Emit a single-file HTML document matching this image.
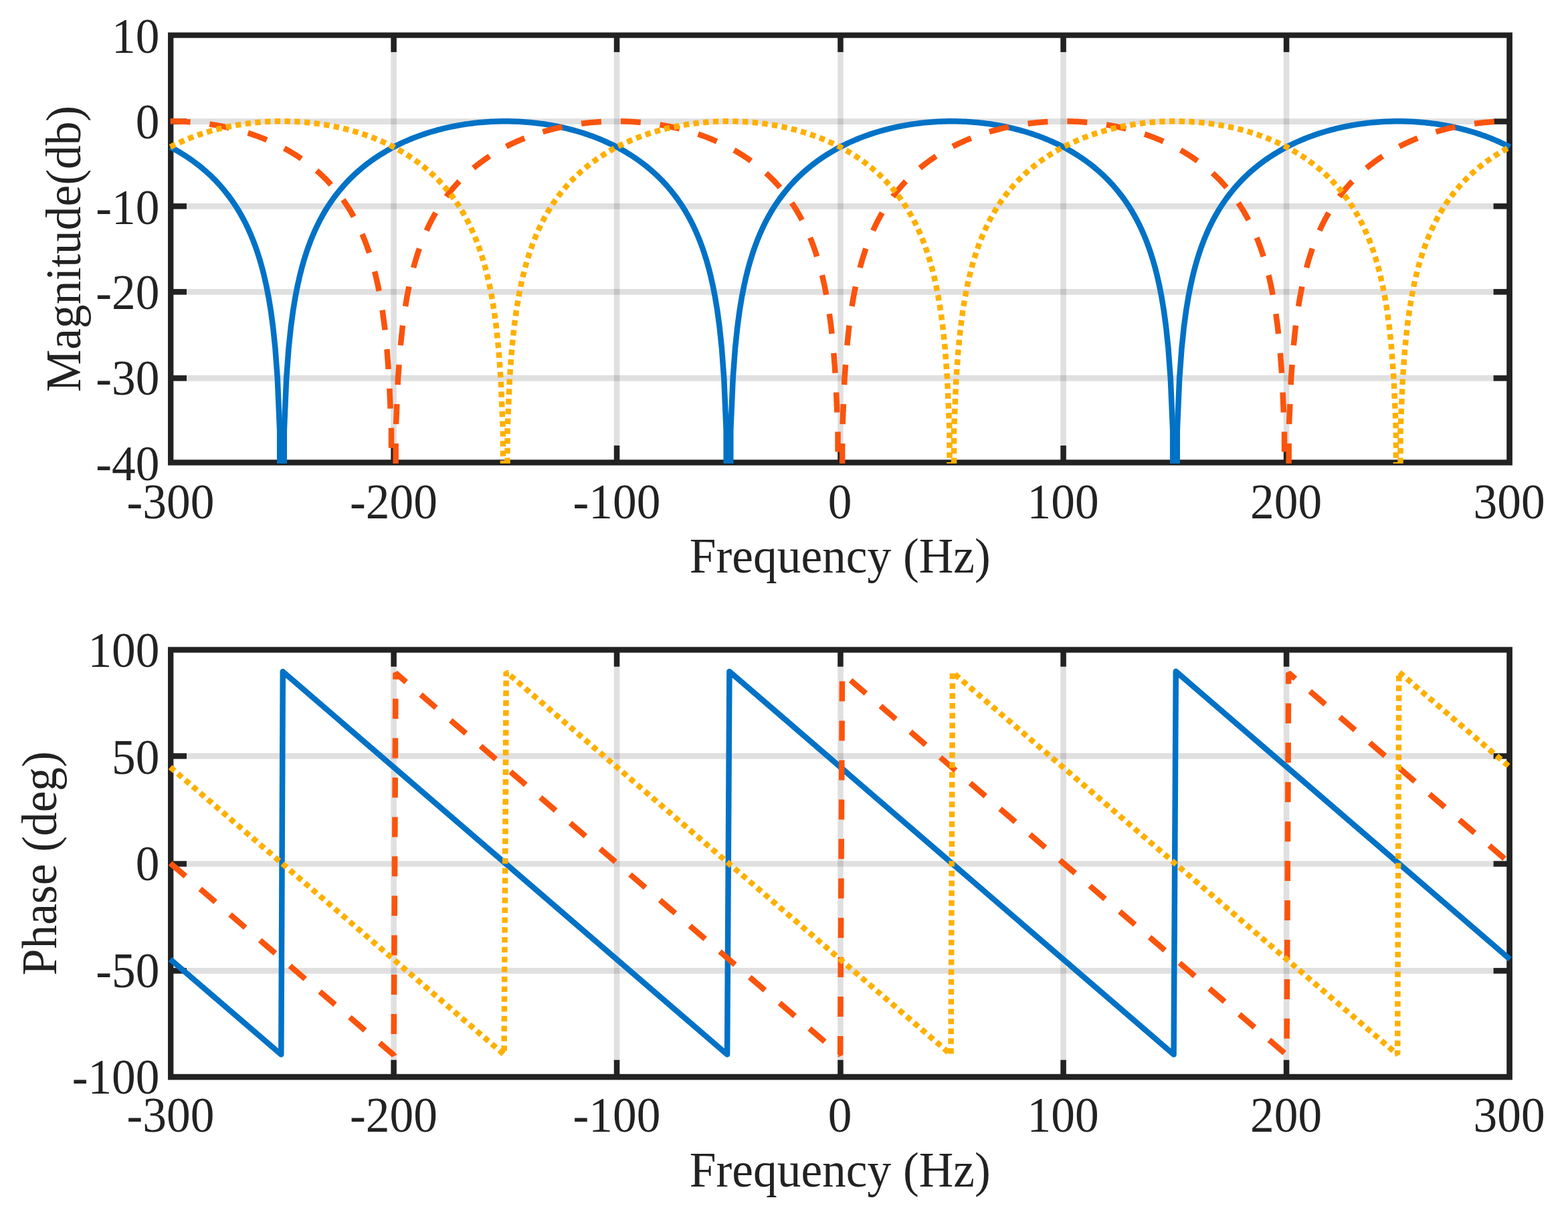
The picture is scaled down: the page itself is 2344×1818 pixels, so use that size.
<!DOCTYPE html>
<html lang="en"><head><meta charset="utf-8"><title>Magnitude and Phase</title>
<style>html,body{margin:0;padding:0;background:#fff}body{width:2344px;height:1818px;overflow:hidden}svg{display:block}text{font-family:"Liberation Serif","Times New Roman",serif;font-size:71.4px;fill:#222222;font-kerning:none;font-variant-ligatures:none;white-space:pre}</style></head><body>
<svg xmlns="http://www.w3.org/2000/svg" width="2344" height="1818" viewBox="0 0 2344 1818">
<rect width="2344" height="1818" fill="#fff"/>
<g stroke="rgba(34,34,34,0.14)" stroke-width="8.60" fill="none">
<line x1="588.60" y1="52.70" x2="588.60" y2="691.30"/>
<line x1="922.05" y1="52.70" x2="922.05" y2="691.30"/>
<line x1="1256.45" y1="52.70" x2="1256.45" y2="691.30"/>
<line x1="1589.60" y1="52.70" x2="1589.60" y2="691.30"/>
<line x1="1923.10" y1="52.70" x2="1923.10" y2="691.30"/>
<line x1="255.20" y1="181.65" x2="2256.40" y2="181.65"/>
<line x1="255.20" y1="308.35" x2="2256.40" y2="308.35"/>
<line x1="255.20" y1="436.35" x2="2256.40" y2="436.35"/>
<line x1="255.20" y1="565.40" x2="2256.40" y2="565.40"/>
</g>
<g stroke="#222222" stroke-width="8.48" fill="none">
<line x1="588.60" y1="52.70" x2="588.60" y2="77.90"/>
<line x1="588.60" y1="691.30" x2="588.60" y2="666.10"/>
<line x1="922.05" y1="52.70" x2="922.05" y2="77.90"/>
<line x1="922.05" y1="691.30" x2="922.05" y2="666.10"/>
<line x1="1256.45" y1="52.70" x2="1256.45" y2="77.90"/>
<line x1="1256.45" y1="691.30" x2="1256.45" y2="666.10"/>
<line x1="1589.60" y1="52.70" x2="1589.60" y2="77.90"/>
<line x1="1589.60" y1="691.30" x2="1589.60" y2="666.10"/>
<line x1="1923.10" y1="52.70" x2="1923.10" y2="77.90"/>
<line x1="1923.10" y1="691.30" x2="1923.10" y2="666.10"/>
<line x1="255.20" y1="181.65" x2="279.00" y2="181.65"/>
<line x1="2256.40" y1="181.65" x2="2232.60" y2="181.65"/>
<line x1="255.20" y1="308.35" x2="279.00" y2="308.35"/>
<line x1="2256.40" y1="308.35" x2="2232.60" y2="308.35"/>
<line x1="255.20" y1="436.35" x2="279.00" y2="436.35"/>
<line x1="2256.40" y1="436.35" x2="2232.60" y2="436.35"/>
<line x1="255.20" y1="565.40" x2="279.00" y2="565.40"/>
<line x1="2256.40" y1="565.40" x2="2232.60" y2="565.40"/>
</g>
<path fill="#222222" fill-rule="evenodd" d="M251.03,48.54 H2260.91 V695.81 H251.03 Z M259.37,56.87 H2252.24 V687.13 H259.37 Z"/>
<g fill="none" stroke-width="8.50">
<g stroke="#0072C6" stroke-linejoin="round">
<path d="M254.60,219.83 L257.94,221.60 L261.27,223.43 L264.61,225.32 L267.95,227.27 L271.29,229.28 L274.62,231.36 L277.96,233.50 L281.30,235.71 L284.64,238.00 L287.98,240.36 L291.31,242.81 L294.65,245.33 L297.99,247.94 L301.32,250.65 L304.66,253.45 L308.00,256.34 L311.34,259.35 L314.68,262.47 L318.01,265.70 L321.35,269.06 L324.69,272.55 L328.02,276.19 L331.36,279.98 L334.70,283.92 L338.04,288.05 L341.38,292.36 L344.71,296.87 L348.05,301.60 L351.39,306.57 L354.73,311.80 L358.06,317.32 L361.40,323.16 L364.74,329.35 L368.07,335.93 L371.41,342.96 L374.75,350.50 L378.09,358.61 L381.43,367.39 L384.76,376.95 L388.10,387.44 L391.44,399.06 L394.77,412.07 L398.11,426.84 L401.45,443.91 L404.79,464.11 L408.12,488.87 L411.46,520.80 L414.80,565.83 L418.14,642.83 L418.19,693.00"/>
<path d="M424.76,693.00 L424.81,642.83 L428.15,565.83 L431.49,520.80 L434.82,488.87 L438.16,464.11 L441.50,443.91 L444.84,426.84 L448.17,412.07 L451.51,399.06 L454.85,387.44 L458.19,376.95 L461.52,367.39 L464.86,358.61 L468.20,350.50 L471.54,342.96 L474.88,335.93 L478.21,329.35 L481.55,323.16 L484.89,317.32 L488.23,311.80 L491.56,306.57 L494.90,301.60 L498.24,296.87 L501.57,292.36 L504.91,288.05 L508.25,283.92 L511.59,279.98 L514.92,276.19 L518.26,272.55 L521.60,269.06 L524.94,265.70 L528.27,262.47 L531.61,259.35 L534.95,256.34 L538.29,253.45 L541.62,250.65 L544.96,247.94 L548.30,245.33 L551.64,242.81 L554.98,240.36 L558.31,238.00 L561.65,235.71 L564.99,233.50 L568.33,231.36 L571.66,229.28 L575.00,227.27 L578.34,225.32 L581.67,223.43 L585.01,221.60 L588.35,219.83 L591.69,218.11 L595.02,216.44 L598.36,214.83 L601.70,213.27 L605.04,211.75 L608.38,210.29 L611.71,208.87 L615.05,207.49 L618.39,206.16 L621.73,204.87 L625.06,203.62 L628.40,202.41 L631.74,201.25 L635.08,200.12 L638.41,199.03 L641.75,197.98 L645.09,196.97 L648.42,195.99 L651.76,195.05 L655.10,194.14 L658.44,193.27 L661.77,192.43 L665.11,191.63 L668.45,190.86 L671.79,190.12 L675.12,189.41 L678.46,188.73 L681.80,188.09 L685.14,187.48 L688.48,186.90 L691.81,186.34 L695.15,185.82 L698.49,185.33 L701.82,184.87 L705.16,184.43 L708.50,184.03 L711.84,183.65 L715.18,183.31 L718.51,182.99 L721.85,182.70 L725.19,182.43 L728.52,182.20 L731.86,181.99 L735.20,181.81 L738.54,181.66 L741.88,181.54 L745.21,181.44 L748.55,181.37 L751.89,181.33 L755.23,181.32 L758.56,181.33 L761.90,181.37 L765.24,181.44 L768.58,181.54 L771.91,181.66 L775.25,181.81 L778.59,181.99 L781.92,182.20 L785.26,182.43 L788.60,182.70 L791.94,182.99 L795.28,183.31 L798.61,183.65 L801.95,184.03 L805.29,184.43 L808.62,184.87 L811.96,185.33 L815.30,185.82 L818.64,186.34 L821.98,186.90 L825.31,187.48 L828.65,188.09 L831.99,188.73 L835.32,189.41 L838.66,190.12 L842.00,190.86 L845.34,191.63 L848.68,192.43 L852.01,193.27 L855.35,194.14 L858.69,195.05 L862.03,195.99 L865.36,196.97 L868.70,197.98 L872.04,199.03 L875.38,200.12 L878.71,201.25 L882.05,202.41 L885.39,203.62 L888.73,204.87 L892.06,206.16 L895.40,207.49 L898.74,208.87 L902.07,210.29 L905.41,211.75 L908.75,213.27 L912.09,214.83 L915.43,216.44 L918.76,218.11 L922.10,219.83 L925.44,221.60 L928.77,223.43 L932.11,225.32 L935.45,227.27 L938.79,229.28 L942.12,231.36 L945.46,233.50 L948.80,235.71 L952.14,238.00 L955.48,240.36 L958.81,242.81 L962.15,245.33 L965.49,247.94 L968.83,250.65 L972.16,253.45 L975.50,256.34 L978.84,259.35 L982.18,262.47 L985.51,265.70 L988.85,269.06 L992.19,272.55 L995.52,276.19 L998.86,279.98 L1002.20,283.92 L1005.54,288.05 L1008.88,292.36 L1012.21,296.87 L1015.55,301.60 L1018.89,306.57 L1022.23,311.80 L1025.56,317.32 L1028.90,323.16 L1032.24,329.35 L1035.58,335.93 L1038.91,342.96 L1042.25,350.50 L1045.59,358.61 L1048.92,367.39 L1052.26,376.95 L1055.60,387.44 L1058.94,399.06 L1062.27,412.07 L1065.61,426.84 L1068.95,443.91 L1072.29,464.11 L1075.62,488.87 L1078.96,520.80 L1082.30,565.83 L1085.64,642.83 L1085.69,693.00"/>
<path d="M1092.26,693.00 L1092.31,642.83 L1095.65,565.83 L1098.99,520.80 L1102.33,488.87 L1105.66,464.11 L1109.00,443.91 L1112.34,426.84 L1115.67,412.07 L1119.01,399.06 L1122.35,387.44 L1125.69,376.95 L1129.02,367.39 L1132.36,358.61 L1135.70,350.50 L1139.04,342.96 L1142.38,335.93 L1145.71,329.35 L1149.05,323.16 L1152.39,317.32 L1155.72,311.80 L1159.06,306.57 L1162.40,301.60 L1165.74,296.87 L1169.08,292.36 L1172.41,288.05 L1175.75,283.92 L1179.09,279.98 L1182.42,276.19 L1185.76,272.55 L1189.10,269.06 L1192.44,265.70 L1195.77,262.47 L1199.11,259.35 L1202.45,256.34 L1205.79,253.45 L1209.12,250.65 L1212.46,247.94 L1215.80,245.33 L1219.14,242.81 L1222.47,240.36 L1225.81,238.00 L1229.15,235.71 L1232.49,233.50 L1235.83,231.36 L1239.16,229.28 L1242.50,227.27 L1245.84,225.32 L1249.17,223.43 L1252.51,221.60 L1255.85,219.83 L1259.19,218.11 L1262.52,216.44 L1265.86,214.83 L1269.20,213.27 L1272.54,211.75 L1275.88,210.29 L1279.21,208.87 L1282.55,207.49 L1285.89,206.16 L1289.22,204.87 L1292.56,203.62 L1295.90,202.41 L1299.24,201.25 L1302.57,200.12 L1305.91,199.03 L1309.25,197.98 L1312.59,196.97 L1315.92,195.99 L1319.26,195.05 L1322.60,194.14 L1325.94,193.27 L1329.27,192.43 L1332.61,191.63 L1335.95,190.86 L1339.29,190.12 L1342.62,189.41 L1345.96,188.73 L1349.30,188.09 L1352.64,187.48 L1355.97,186.90 L1359.31,186.34 L1362.65,185.82 L1365.99,185.33 L1369.32,184.87 L1372.66,184.43 L1376.00,184.03 L1379.34,183.65 L1382.67,183.31 L1386.01,182.99 L1389.35,182.70 L1392.69,182.43 L1396.02,182.20 L1399.36,181.99 L1402.70,181.81 L1406.04,181.66 L1409.38,181.54 L1412.71,181.44 L1416.05,181.37 L1419.39,181.33 L1422.72,181.32 L1426.06,181.33 L1429.40,181.37 L1432.74,181.44 L1436.07,181.54 L1439.41,181.66 L1442.75,181.81 L1446.09,181.99 L1449.42,182.20 L1452.76,182.43 L1456.10,182.70 L1459.44,182.99 L1462.78,183.31 L1466.11,183.65 L1469.45,184.03 L1472.79,184.43 L1476.12,184.87 L1479.46,185.33 L1482.80,185.82 L1486.14,186.34 L1489.47,186.90 L1492.81,187.48 L1496.15,188.09 L1499.49,188.73 L1502.82,189.41 L1506.16,190.12 L1509.50,190.86 L1512.84,191.63 L1516.17,192.43 L1519.51,193.27 L1522.85,194.14 L1526.19,195.05 L1529.53,195.99 L1532.86,196.97 L1536.20,197.98 L1539.54,199.03 L1542.87,200.12 L1546.21,201.25 L1549.55,202.41 L1552.89,203.62 L1556.22,204.87 L1559.56,206.16 L1562.90,207.49 L1566.24,208.87 L1569.57,210.29 L1572.91,211.75 L1576.25,213.27 L1579.59,214.83 L1582.92,216.44 L1586.26,218.11 L1589.60,219.83 L1592.94,221.60 L1596.28,223.43 L1599.61,225.32 L1602.95,227.27 L1606.29,229.28 L1609.62,231.36 L1612.96,233.50 L1616.30,235.71 L1619.64,238.00 L1622.97,240.36 L1626.31,242.81 L1629.65,245.33 L1632.99,247.94 L1636.32,250.65 L1639.66,253.45 L1643.00,256.34 L1646.34,259.35 L1649.67,262.47 L1653.01,265.70 L1656.35,269.06 L1659.69,272.55 L1663.02,276.19 L1666.36,279.98 L1669.70,283.92 L1673.04,288.05 L1676.37,292.36 L1679.71,296.87 L1683.05,301.60 L1686.39,306.57 L1689.72,311.80 L1693.06,317.32 L1696.40,323.16 L1699.74,329.35 L1703.08,335.93 L1706.41,342.96 L1709.75,350.50 L1713.09,358.61 L1716.42,367.39 L1719.76,376.95 L1723.10,387.44 L1726.44,399.06 L1729.77,412.07 L1733.11,426.84 L1736.45,443.91 L1739.79,464.11 L1743.12,488.87 L1746.46,520.80 L1749.80,565.83 L1753.14,642.83 L1753.19,693.00"/>
<path d="M1759.76,693.00 L1759.81,642.83 L1763.15,565.83 L1766.49,520.80 L1769.83,488.87 L1773.16,464.11 L1776.50,443.91 L1779.84,426.84 L1783.17,412.07 L1786.51,399.06 L1789.85,387.44 L1793.19,376.95 L1796.52,367.39 L1799.86,358.61 L1803.20,350.50 L1806.54,342.96 L1809.87,335.93 L1813.21,329.35 L1816.55,323.16 L1819.89,317.32 L1823.22,311.80 L1826.56,306.57 L1829.90,301.60 L1833.24,296.87 L1836.58,292.36 L1839.91,288.05 L1843.25,283.92 L1846.59,279.98 L1849.92,276.19 L1853.26,272.55 L1856.60,269.06 L1859.94,265.70 L1863.27,262.47 L1866.61,259.35 L1869.95,256.34 L1873.29,253.45 L1876.62,250.65 L1879.96,247.94 L1883.30,245.33 L1886.64,242.81 L1889.97,240.36 L1893.31,238.00 L1896.65,235.71 L1899.99,233.50 L1903.33,231.36 L1906.66,229.28 L1910.00,227.27 L1913.34,225.32 L1916.67,223.43 L1920.01,221.60 L1923.35,219.83 L1926.69,218.11 L1930.02,216.44 L1933.36,214.83 L1936.70,213.27 L1940.04,211.75 L1943.38,210.29 L1946.71,208.87 L1950.05,207.49 L1953.39,206.16 L1956.72,204.87 L1960.06,203.62 L1963.40,202.41 L1966.74,201.25 L1970.08,200.12 L1973.41,199.03 L1976.75,197.98 L1980.09,196.97 L1983.42,195.99 L1986.76,195.05 L1990.10,194.14 L1993.44,193.27 L1996.77,192.43 L2000.11,191.63 L2003.45,190.86 L2006.79,190.12 L2010.12,189.41 L2013.46,188.73 L2016.80,188.09 L2020.14,187.48 L2023.47,186.90 L2026.81,186.34 L2030.15,185.82 L2033.49,185.33 L2036.83,184.87 L2040.16,184.43 L2043.50,184.03 L2046.84,183.65 L2050.17,183.31 L2053.51,182.99 L2056.85,182.70 L2060.19,182.43 L2063.53,182.20 L2066.86,181.99 L2070.20,181.81 L2073.54,181.66 L2076.88,181.54 L2080.21,181.44 L2083.55,181.37 L2086.89,181.33 L2090.22,181.32 L2093.56,181.33 L2096.90,181.37 L2100.24,181.44 L2103.57,181.54 L2106.91,181.66 L2110.25,181.81 L2113.59,181.99 L2116.93,182.20 L2120.26,182.43 L2123.60,182.70 L2126.94,182.99 L2130.28,183.31 L2133.61,183.65 L2136.95,184.03 L2140.29,184.43 L2143.62,184.87 L2146.96,185.33 L2150.30,185.82 L2153.64,186.34 L2156.97,186.90 L2160.31,187.48 L2163.65,188.09 L2166.99,188.73 L2170.32,189.41 L2173.66,190.12 L2177.00,190.86 L2180.34,191.63 L2183.68,192.43 L2187.01,193.27 L2190.35,194.14 L2193.69,195.05 L2197.03,195.99 L2200.36,196.97 L2203.70,197.98 L2207.04,199.03 L2210.38,200.12 L2213.71,201.25 L2217.05,202.41 L2220.39,203.62 L2223.72,204.87 L2227.06,206.16 L2230.40,207.49 L2233.74,208.87 L2237.07,210.29 L2240.41,211.75 L2243.75,213.27 L2247.09,214.83 L2250.43,216.44 L2253.76,218.11 L2257.10,219.83"/>
</g>
<g stroke="#FA540D" stroke-linejoin="bevel" stroke-dasharray="30 28.93">
<path d="M254.60,181.32 L257.94,181.33 L261.27,181.37 L264.61,181.44 L267.95,181.54 L271.29,181.66 L274.62,181.81 L277.96,181.99 L281.30,182.20 L284.64,182.43 L287.98,182.70 L291.31,182.99 L294.65,183.31 L297.99,183.65 L301.32,184.03 L304.66,184.43 L308.00,184.87 L311.34,185.33 L314.68,185.82 L318.01,186.34 L321.35,186.90 L324.69,187.48 L328.02,188.09 L331.36,188.73 L334.70,189.41 L338.04,190.12 L341.38,190.86 L344.71,191.63 L348.05,192.43 L351.39,193.27 L354.73,194.14 L358.06,195.05 L361.40,195.99 L364.74,196.97 L368.07,197.98 L371.41,199.03 L374.75,200.12 L378.09,201.25 L381.43,202.41 L384.76,203.62 L388.10,204.87 L391.44,206.16 L394.77,207.49 L398.11,208.87 L401.45,210.29 L404.79,211.75 L408.12,213.27 L411.46,214.83 L414.80,216.44 L418.14,218.11 L421.48,219.83 L424.81,221.60 L428.15,223.43 L431.49,225.32 L434.82,227.27 L438.16,229.28 L441.50,231.36 L444.84,233.50 L448.17,235.71 L451.51,238.00 L454.85,240.36 L458.19,242.81 L461.52,245.33 L464.86,247.94 L468.20,250.65 L471.54,253.45 L474.88,256.34 L478.21,259.35 L481.55,262.47 L484.89,265.70 L488.23,269.06 L491.56,272.55 L494.90,276.19 L498.24,279.98 L501.57,283.92 L504.91,288.05 L508.25,292.36 L511.59,296.87 L514.92,301.60 L518.26,306.57 L521.60,311.80 L524.94,317.32 L528.27,323.16 L531.61,329.35 L534.95,335.93 L538.29,342.96 L541.62,350.50 L544.96,358.61 L548.30,367.39 L551.64,376.95 L554.98,387.44 L558.31,399.06 L561.65,412.07 L564.99,426.84 L568.33,443.91 L571.66,464.11 L575.00,488.87 L578.34,520.80 L581.67,565.83 L585.01,642.83 L585.06,693.00"/>
<path d="M591.64,693.00 L591.69,642.83 L595.02,565.83 L598.36,520.80 L601.70,488.87 L605.04,464.11 L608.38,443.91 L611.71,426.84 L615.05,412.07 L618.39,399.06 L621.73,387.44 L625.06,376.95 L628.40,367.39 L631.74,358.61 L635.08,350.50 L638.41,342.96 L641.75,335.93 L645.09,329.35 L648.42,323.16 L651.76,317.32 L655.10,311.80 L658.44,306.57 L661.77,301.60 L665.11,296.87 L668.45,292.36 L671.79,288.05 L675.12,283.92 L678.46,279.98 L681.80,276.19 L685.14,272.55 L688.48,269.06 L691.81,265.70 L695.15,262.47 L698.49,259.35 L701.82,256.34 L705.16,253.45 L708.50,250.65 L711.84,247.94 L715.18,245.33 L718.51,242.81 L721.85,240.36 L725.19,238.00 L728.52,235.71 L731.86,233.50 L735.20,231.36 L738.54,229.28 L741.88,227.27 L745.21,225.32 L748.55,223.43 L751.89,221.60 L755.23,219.83 L758.56,218.11 L761.90,216.44 L765.24,214.83 L768.58,213.27 L771.91,211.75 L775.25,210.29 L778.59,208.87 L781.92,207.49 L785.26,206.16 L788.60,204.87 L791.94,203.62 L795.28,202.41 L798.61,201.25 L801.95,200.12 L805.29,199.03 L808.62,197.98 L811.96,196.97 L815.30,195.99 L818.64,195.05 L821.98,194.14 L825.31,193.27 L828.65,192.43 L831.99,191.63 L835.32,190.86 L838.66,190.12 L842.00,189.41 L845.34,188.73 L848.68,188.09 L852.01,187.48 L855.35,186.90 L858.69,186.34 L862.03,185.82 L865.36,185.33 L868.70,184.87 L872.04,184.43 L875.38,184.03 L878.71,183.65 L882.05,183.31 L885.39,182.99 L888.73,182.70 L892.06,182.43 L895.40,182.20 L898.74,181.99 L902.07,181.81 L905.41,181.66 L908.75,181.54 L912.09,181.44 L915.43,181.37 L918.76,181.33 L922.10,181.32 L925.44,181.33 L928.77,181.37 L932.11,181.44 L935.45,181.54 L938.79,181.66 L942.12,181.81 L945.46,181.99 L948.80,182.20 L952.14,182.43 L955.48,182.70 L958.81,182.99 L962.15,183.31 L965.49,183.65 L968.83,184.03 L972.16,184.43 L975.50,184.87 L978.84,185.33 L982.18,185.82 L985.51,186.34 L988.85,186.90 L992.19,187.48 L995.52,188.09 L998.86,188.73 L1002.20,189.41 L1005.54,190.12 L1008.88,190.86 L1012.21,191.63 L1015.55,192.43 L1018.89,193.27 L1022.23,194.14 L1025.56,195.05 L1028.90,195.99 L1032.24,196.97 L1035.58,197.98 L1038.91,199.03 L1042.25,200.12 L1045.59,201.25 L1048.92,202.41 L1052.26,203.62 L1055.60,204.87 L1058.94,206.16 L1062.27,207.49 L1065.61,208.87 L1068.95,210.29 L1072.29,211.75 L1075.62,213.27 L1078.96,214.83 L1082.30,216.44 L1085.64,218.11 L1088.97,219.83 L1092.31,221.60 L1095.65,223.43 L1098.99,225.32 L1102.33,227.27 L1105.66,229.28 L1109.00,231.36 L1112.34,233.50 L1115.67,235.71 L1119.01,238.00 L1122.35,240.36 L1125.69,242.81 L1129.02,245.33 L1132.36,247.94 L1135.70,250.65 L1139.04,253.45 L1142.38,256.34 L1145.71,259.35 L1149.05,262.47 L1152.39,265.70 L1155.72,269.06 L1159.06,272.55 L1162.40,276.19 L1165.74,279.98 L1169.08,283.92 L1172.41,288.05 L1175.75,292.36 L1179.09,296.87 L1182.42,301.60 L1185.76,306.57 L1189.10,311.80 L1192.44,317.32 L1195.77,323.16 L1199.11,329.35 L1202.45,335.93 L1205.79,342.96 L1209.12,350.50 L1212.46,358.61 L1215.80,367.39 L1219.14,376.95 L1222.47,387.44 L1225.81,399.06 L1229.15,412.07 L1232.49,426.84 L1235.83,443.91 L1239.16,464.11 L1242.50,488.87 L1245.84,520.80 L1249.17,565.83 L1252.51,642.83 L1252.56,693.00"/>
<path d="M1259.14,693.00 L1259.19,642.83 L1262.52,565.83 L1265.86,520.80 L1269.20,488.87 L1272.54,464.11 L1275.88,443.91 L1279.21,426.84 L1282.55,412.07 L1285.89,399.06 L1289.22,387.44 L1292.56,376.95 L1295.90,367.39 L1299.24,358.61 L1302.57,350.50 L1305.91,342.96 L1309.25,335.93 L1312.59,329.35 L1315.92,323.16 L1319.26,317.32 L1322.60,311.80 L1325.94,306.57 L1329.27,301.60 L1332.61,296.87 L1335.95,292.36 L1339.29,288.05 L1342.62,283.92 L1345.96,279.98 L1349.30,276.19 L1352.64,272.55 L1355.97,269.06 L1359.31,265.70 L1362.65,262.47 L1365.99,259.35 L1369.32,256.34 L1372.66,253.45 L1376.00,250.65 L1379.34,247.94 L1382.67,245.33 L1386.01,242.81 L1389.35,240.36 L1392.69,238.00 L1396.02,235.71 L1399.36,233.50 L1402.70,231.36 L1406.04,229.28 L1409.38,227.27 L1412.71,225.32 L1416.05,223.43 L1419.39,221.60 L1422.72,219.83 L1426.06,218.11 L1429.40,216.44 L1432.74,214.83 L1436.07,213.27 L1439.41,211.75 L1442.75,210.29 L1446.09,208.87 L1449.42,207.49 L1452.76,206.16 L1456.10,204.87 L1459.44,203.62 L1462.78,202.41 L1466.11,201.25 L1469.45,200.12 L1472.79,199.03 L1476.12,197.98 L1479.46,196.97 L1482.80,195.99 L1486.14,195.05 L1489.47,194.14 L1492.81,193.27 L1496.15,192.43 L1499.49,191.63 L1502.82,190.86 L1506.16,190.12 L1509.50,189.41 L1512.84,188.73 L1516.17,188.09 L1519.51,187.48 L1522.85,186.90 L1526.19,186.34 L1529.53,185.82 L1532.86,185.33 L1536.20,184.87 L1539.54,184.43 L1542.87,184.03 L1546.21,183.65 L1549.55,183.31 L1552.89,182.99 L1556.22,182.70 L1559.56,182.43 L1562.90,182.20 L1566.24,181.99 L1569.57,181.81 L1572.91,181.66 L1576.25,181.54 L1579.59,181.44 L1582.92,181.37 L1586.26,181.33 L1589.60,181.32 L1592.94,181.33 L1596.28,181.37 L1599.61,181.44 L1602.95,181.54 L1606.29,181.66 L1609.62,181.81 L1612.96,181.99 L1616.30,182.20 L1619.64,182.43 L1622.97,182.70 L1626.31,182.99 L1629.65,183.31 L1632.99,183.65 L1636.32,184.03 L1639.66,184.43 L1643.00,184.87 L1646.34,185.33 L1649.67,185.82 L1653.01,186.34 L1656.35,186.90 L1659.69,187.48 L1663.02,188.09 L1666.36,188.73 L1669.70,189.41 L1673.04,190.12 L1676.37,190.86 L1679.71,191.63 L1683.05,192.43 L1686.39,193.27 L1689.72,194.14 L1693.06,195.05 L1696.40,195.99 L1699.74,196.97 L1703.08,197.98 L1706.41,199.03 L1709.75,200.12 L1713.09,201.25 L1716.42,202.41 L1719.76,203.62 L1723.10,204.87 L1726.44,206.16 L1729.77,207.49 L1733.11,208.87 L1736.45,210.29 L1739.79,211.75 L1743.12,213.27 L1746.46,214.83 L1749.80,216.44 L1753.14,218.11 L1756.47,219.83 L1759.81,221.60 L1763.15,223.43 L1766.49,225.32 L1769.83,227.27 L1773.16,229.28 L1776.50,231.36 L1779.84,233.50 L1783.17,235.71 L1786.51,238.00 L1789.85,240.36 L1793.19,242.81 L1796.52,245.33 L1799.86,247.94 L1803.20,250.65 L1806.54,253.45 L1809.87,256.34 L1813.21,259.35 L1816.55,262.47 L1819.89,265.70 L1823.22,269.06 L1826.56,272.55 L1829.90,276.19 L1833.24,279.98 L1836.58,283.92 L1839.91,288.05 L1843.25,292.36 L1846.59,296.87 L1849.92,301.60 L1853.26,306.57 L1856.60,311.80 L1859.94,317.32 L1863.27,323.16 L1866.61,329.35 L1869.95,335.93 L1873.29,342.96 L1876.62,350.50 L1879.96,358.61 L1883.30,367.39 L1886.64,376.95 L1889.97,387.44 L1893.31,399.06 L1896.65,412.07 L1899.99,426.84 L1903.33,443.91 L1906.66,464.11 L1910.00,488.87 L1913.34,520.80 L1916.67,565.83 L1920.01,642.83 L1920.06,693.00"/>
<path d="M1926.64,693.00 L1926.69,642.83 L1930.02,565.83 L1933.36,520.80 L1936.70,488.87 L1940.04,464.11 L1943.38,443.91 L1946.71,426.84 L1950.05,412.07 L1953.39,399.06 L1956.72,387.44 L1960.06,376.95 L1963.40,367.39 L1966.74,358.61 L1970.08,350.50 L1973.41,342.96 L1976.75,335.93 L1980.09,329.35 L1983.42,323.16 L1986.76,317.32 L1990.10,311.80 L1993.44,306.57 L1996.77,301.60 L2000.11,296.87 L2003.45,292.36 L2006.79,288.05 L2010.12,283.92 L2013.46,279.98 L2016.80,276.19 L2020.14,272.55 L2023.47,269.06 L2026.81,265.70 L2030.15,262.47 L2033.49,259.35 L2036.83,256.34 L2040.16,253.45 L2043.50,250.65 L2046.84,247.94 L2050.17,245.33 L2053.51,242.81 L2056.85,240.36 L2060.19,238.00 L2063.53,235.71 L2066.86,233.50 L2070.20,231.36 L2073.54,229.28 L2076.88,227.27 L2080.21,225.32 L2083.55,223.43 L2086.89,221.60 L2090.22,219.83 L2093.56,218.11 L2096.90,216.44 L2100.24,214.83 L2103.57,213.27 L2106.91,211.75 L2110.25,210.29 L2113.59,208.87 L2116.93,207.49 L2120.26,206.16 L2123.60,204.87 L2126.94,203.62 L2130.28,202.41 L2133.61,201.25 L2136.95,200.12 L2140.29,199.03 L2143.62,197.98 L2146.96,196.97 L2150.30,195.99 L2153.64,195.05 L2156.97,194.14 L2160.31,193.27 L2163.65,192.43 L2166.99,191.63 L2170.32,190.86 L2173.66,190.12 L2177.00,189.41 L2180.34,188.73 L2183.68,188.09 L2187.01,187.48 L2190.35,186.90 L2193.69,186.34 L2197.03,185.82 L2200.36,185.33 L2203.70,184.87 L2207.04,184.43 L2210.38,184.03 L2213.71,183.65 L2217.05,183.31 L2220.39,182.99 L2223.72,182.70 L2227.06,182.43 L2230.40,182.20 L2233.74,181.99 L2237.07,181.81 L2240.41,181.66 L2243.75,181.54 L2247.09,181.44 L2250.43,181.37 L2253.76,181.33 L2257.10,181.32"/>
</g>
<g stroke="#FFB000" stroke-linejoin="bevel" stroke-dasharray="8.4 6.345">
<path d="M254.60,219.83 L257.94,218.11 L261.27,216.44 L264.61,214.83 L267.95,213.27 L271.29,211.75 L274.62,210.29 L277.96,208.87 L281.30,207.49 L284.64,206.16 L287.98,204.87 L291.31,203.62 L294.65,202.41 L297.99,201.25 L301.32,200.12 L304.66,199.03 L308.00,197.98 L311.34,196.97 L314.68,195.99 L318.01,195.05 L321.35,194.14 L324.69,193.27 L328.02,192.43 L331.36,191.63 L334.70,190.86 L338.04,190.12 L341.38,189.41 L344.71,188.73 L348.05,188.09 L351.39,187.48 L354.73,186.90 L358.06,186.34 L361.40,185.82 L364.74,185.33 L368.07,184.87 L371.41,184.43 L374.75,184.03 L378.09,183.65 L381.43,183.31 L384.76,182.99 L388.10,182.70 L391.44,182.43 L394.77,182.20 L398.11,181.99 L401.45,181.81 L404.79,181.66 L408.12,181.54 L411.46,181.44 L414.80,181.37 L418.14,181.33 L421.48,181.32 L424.81,181.33 L428.15,181.37 L431.49,181.44 L434.82,181.54 L438.16,181.66 L441.50,181.81 L444.84,181.99 L448.17,182.20 L451.51,182.43 L454.85,182.70 L458.19,182.99 L461.52,183.31 L464.86,183.65 L468.20,184.03 L471.54,184.43 L474.88,184.87 L478.21,185.33 L481.55,185.82 L484.89,186.34 L488.23,186.90 L491.56,187.48 L494.90,188.09 L498.24,188.73 L501.57,189.41 L504.91,190.12 L508.25,190.86 L511.59,191.63 L514.92,192.43 L518.26,193.27 L521.60,194.14 L524.94,195.05 L528.27,195.99 L531.61,196.97 L534.95,197.98 L538.29,199.03 L541.62,200.12 L544.96,201.25 L548.30,202.41 L551.64,203.62 L554.98,204.87 L558.31,206.16 L561.65,207.49 L564.99,208.87 L568.33,210.29 L571.66,211.75 L575.00,213.27 L578.34,214.83 L581.67,216.44 L585.01,218.11 L588.35,219.83 L591.69,221.60 L595.02,223.43 L598.36,225.32 L601.70,227.27 L605.04,229.28 L608.38,231.36 L611.71,233.50 L615.05,235.71 L618.39,238.00 L621.73,240.36 L625.06,242.81 L628.40,245.33 L631.74,247.94 L635.08,250.65 L638.41,253.45 L641.75,256.34 L645.09,259.35 L648.42,262.47 L651.76,265.70 L655.10,269.06 L658.44,272.55 L661.77,276.19 L665.11,279.98 L668.45,283.92 L671.79,288.05 L675.12,292.36 L678.46,296.87 L681.80,301.60 L685.14,306.57 L688.48,311.80 L691.81,317.32 L695.15,323.16 L698.49,329.35 L701.82,335.93 L705.16,342.96 L708.50,350.50 L711.84,358.61 L715.18,367.39 L718.51,376.95 L721.85,387.44 L725.19,399.06 L728.52,412.07 L731.86,426.84 L735.20,443.91 L738.54,464.11 L741.88,488.87 L745.21,520.80 L748.55,565.83 L751.89,642.83 L751.94,693.00"/>
<path d="M758.51,693.00 L758.56,642.83 L761.90,565.83 L765.24,520.80 L768.58,488.87 L771.91,464.11 L775.25,443.91 L778.59,426.84 L781.92,412.07 L785.26,399.06 L788.60,387.44 L791.94,376.95 L795.28,367.39 L798.61,358.61 L801.95,350.50 L805.29,342.96 L808.62,335.93 L811.96,329.35 L815.30,323.16 L818.64,317.32 L821.98,311.80 L825.31,306.57 L828.65,301.60 L831.99,296.87 L835.32,292.36 L838.66,288.05 L842.00,283.92 L845.34,279.98 L848.68,276.19 L852.01,272.55 L855.35,269.06 L858.69,265.70 L862.03,262.47 L865.36,259.35 L868.70,256.34 L872.04,253.45 L875.38,250.65 L878.71,247.94 L882.05,245.33 L885.39,242.81 L888.73,240.36 L892.06,238.00 L895.40,235.71 L898.74,233.50 L902.07,231.36 L905.41,229.28 L908.75,227.27 L912.09,225.32 L915.43,223.43 L918.76,221.60 L922.10,219.83 L925.44,218.11 L928.77,216.44 L932.11,214.83 L935.45,213.27 L938.79,211.75 L942.12,210.29 L945.46,208.87 L948.80,207.49 L952.14,206.16 L955.48,204.87 L958.81,203.62 L962.15,202.41 L965.49,201.25 L968.83,200.12 L972.16,199.03 L975.50,197.98 L978.84,196.97 L982.18,195.99 L985.51,195.05 L988.85,194.14 L992.19,193.27 L995.52,192.43 L998.86,191.63 L1002.20,190.86 L1005.54,190.12 L1008.88,189.41 L1012.21,188.73 L1015.55,188.09 L1018.89,187.48 L1022.23,186.90 L1025.56,186.34 L1028.90,185.82 L1032.24,185.33 L1035.58,184.87 L1038.91,184.43 L1042.25,184.03 L1045.59,183.65 L1048.92,183.31 L1052.26,182.99 L1055.60,182.70 L1058.94,182.43 L1062.27,182.20 L1065.61,181.99 L1068.95,181.81 L1072.29,181.66 L1075.62,181.54 L1078.96,181.44 L1082.30,181.37 L1085.64,181.33 L1088.97,181.32 L1092.31,181.33 L1095.65,181.37 L1098.99,181.44 L1102.33,181.54 L1105.66,181.66 L1109.00,181.81 L1112.34,181.99 L1115.67,182.20 L1119.01,182.43 L1122.35,182.70 L1125.69,182.99 L1129.02,183.31 L1132.36,183.65 L1135.70,184.03 L1139.04,184.43 L1142.38,184.87 L1145.71,185.33 L1149.05,185.82 L1152.39,186.34 L1155.72,186.90 L1159.06,187.48 L1162.40,188.09 L1165.74,188.73 L1169.08,189.41 L1172.41,190.12 L1175.75,190.86 L1179.09,191.63 L1182.42,192.43 L1185.76,193.27 L1189.10,194.14 L1192.44,195.05 L1195.77,195.99 L1199.11,196.97 L1202.45,197.98 L1205.79,199.03 L1209.12,200.12 L1212.46,201.25 L1215.80,202.41 L1219.14,203.62 L1222.47,204.87 L1225.81,206.16 L1229.15,207.49 L1232.49,208.87 L1235.83,210.29 L1239.16,211.75 L1242.50,213.27 L1245.84,214.83 L1249.17,216.44 L1252.51,218.11 L1255.85,219.83 L1259.19,221.60 L1262.52,223.43 L1265.86,225.32 L1269.20,227.27 L1272.54,229.28 L1275.88,231.36 L1279.21,233.50 L1282.55,235.71 L1285.89,238.00 L1289.22,240.36 L1292.56,242.81 L1295.90,245.33 L1299.24,247.94 L1302.57,250.65 L1305.91,253.45 L1309.25,256.34 L1312.59,259.35 L1315.92,262.47 L1319.26,265.70 L1322.60,269.06 L1325.94,272.55 L1329.27,276.19 L1332.61,279.98 L1335.95,283.92 L1339.29,288.05 L1342.62,292.36 L1345.96,296.87 L1349.30,301.60 L1352.64,306.57 L1355.97,311.80 L1359.31,317.32 L1362.65,323.16 L1365.99,329.35 L1369.32,335.93 L1372.66,342.96 L1376.00,350.50 L1379.34,358.61 L1382.67,367.39 L1386.01,376.95 L1389.35,387.44 L1392.69,399.06 L1396.02,412.07 L1399.36,426.84 L1402.70,443.91 L1406.04,464.11 L1409.38,488.87 L1412.71,520.80 L1416.05,565.83 L1419.39,642.83 L1419.44,693.00"/>
<path d="M1426.01,693.00 L1426.06,642.83 L1429.40,565.83 L1432.74,520.80 L1436.07,488.87 L1439.41,464.11 L1442.75,443.91 L1446.09,426.84 L1449.42,412.07 L1452.76,399.06 L1456.10,387.44 L1459.44,376.95 L1462.78,367.39 L1466.11,358.61 L1469.45,350.50 L1472.79,342.96 L1476.12,335.93 L1479.46,329.35 L1482.80,323.16 L1486.14,317.32 L1489.47,311.80 L1492.81,306.57 L1496.15,301.60 L1499.49,296.87 L1502.82,292.36 L1506.16,288.05 L1509.50,283.92 L1512.84,279.98 L1516.17,276.19 L1519.51,272.55 L1522.85,269.06 L1526.19,265.70 L1529.53,262.47 L1532.86,259.35 L1536.20,256.34 L1539.54,253.45 L1542.87,250.65 L1546.21,247.94 L1549.55,245.33 L1552.89,242.81 L1556.22,240.36 L1559.56,238.00 L1562.90,235.71 L1566.24,233.50 L1569.57,231.36 L1572.91,229.28 L1576.25,227.27 L1579.59,225.32 L1582.92,223.43 L1586.26,221.60 L1589.60,219.83 L1592.94,218.11 L1596.28,216.44 L1599.61,214.83 L1602.95,213.27 L1606.29,211.75 L1609.62,210.29 L1612.96,208.87 L1616.30,207.49 L1619.64,206.16 L1622.97,204.87 L1626.31,203.62 L1629.65,202.41 L1632.99,201.25 L1636.32,200.12 L1639.66,199.03 L1643.00,197.98 L1646.34,196.97 L1649.67,195.99 L1653.01,195.05 L1656.35,194.14 L1659.69,193.27 L1663.02,192.43 L1666.36,191.63 L1669.70,190.86 L1673.04,190.12 L1676.37,189.41 L1679.71,188.73 L1683.05,188.09 L1686.39,187.48 L1689.72,186.90 L1693.06,186.34 L1696.40,185.82 L1699.74,185.33 L1703.08,184.87 L1706.41,184.43 L1709.75,184.03 L1713.09,183.65 L1716.42,183.31 L1719.76,182.99 L1723.10,182.70 L1726.44,182.43 L1729.77,182.20 L1733.11,181.99 L1736.45,181.81 L1739.79,181.66 L1743.12,181.54 L1746.46,181.44 L1749.80,181.37 L1753.14,181.33 L1756.47,181.32 L1759.81,181.33 L1763.15,181.37 L1766.49,181.44 L1769.83,181.54 L1773.16,181.66 L1776.50,181.81 L1779.84,181.99 L1783.17,182.20 L1786.51,182.43 L1789.85,182.70 L1793.19,182.99 L1796.52,183.31 L1799.86,183.65 L1803.20,184.03 L1806.54,184.43 L1809.87,184.87 L1813.21,185.33 L1816.55,185.82 L1819.89,186.34 L1823.22,186.90 L1826.56,187.48 L1829.90,188.09 L1833.24,188.73 L1836.58,189.41 L1839.91,190.12 L1843.25,190.86 L1846.59,191.63 L1849.92,192.43 L1853.26,193.27 L1856.60,194.14 L1859.94,195.05 L1863.27,195.99 L1866.61,196.97 L1869.95,197.98 L1873.29,199.03 L1876.62,200.12 L1879.96,201.25 L1883.30,202.41 L1886.64,203.62 L1889.97,204.87 L1893.31,206.16 L1896.65,207.49 L1899.99,208.87 L1903.33,210.29 L1906.66,211.75 L1910.00,213.27 L1913.34,214.83 L1916.67,216.44 L1920.01,218.11 L1923.35,219.83 L1926.69,221.60 L1930.02,223.43 L1933.36,225.32 L1936.70,227.27 L1940.04,229.28 L1943.38,231.36 L1946.71,233.50 L1950.05,235.71 L1953.39,238.00 L1956.72,240.36 L1960.06,242.81 L1963.40,245.33 L1966.74,247.94 L1970.08,250.65 L1973.41,253.45 L1976.75,256.34 L1980.09,259.35 L1983.42,262.47 L1986.76,265.70 L1990.10,269.06 L1993.44,272.55 L1996.77,276.19 L2000.11,279.98 L2003.45,283.92 L2006.79,288.05 L2010.12,292.36 L2013.46,296.87 L2016.80,301.60 L2020.14,306.57 L2023.47,311.80 L2026.81,317.32 L2030.15,323.16 L2033.49,329.35 L2036.83,335.93 L2040.16,342.96 L2043.50,350.50 L2046.84,358.61 L2050.17,367.39 L2053.51,376.95 L2056.85,387.44 L2060.19,399.06 L2063.53,412.07 L2066.86,426.84 L2070.20,443.91 L2073.54,464.11 L2076.88,488.87 L2080.21,520.80 L2083.55,565.83 L2086.89,642.83 L2086.94,693.00"/>
<path d="M2093.51,693.00 L2093.56,642.83 L2096.90,565.83 L2100.24,520.80 L2103.57,488.87 L2106.91,464.11 L2110.25,443.91 L2113.59,426.84 L2116.93,412.07 L2120.26,399.06 L2123.60,387.44 L2126.94,376.95 L2130.28,367.39 L2133.61,358.61 L2136.95,350.50 L2140.29,342.96 L2143.62,335.93 L2146.96,329.35 L2150.30,323.16 L2153.64,317.32 L2156.97,311.80 L2160.31,306.57 L2163.65,301.60 L2166.99,296.87 L2170.32,292.36 L2173.66,288.05 L2177.00,283.92 L2180.34,279.98 L2183.68,276.19 L2187.01,272.55 L2190.35,269.06 L2193.69,265.70 L2197.03,262.47 L2200.36,259.35 L2203.70,256.34 L2207.04,253.45 L2210.38,250.65 L2213.71,247.94 L2217.05,245.33 L2220.39,242.81 L2223.72,240.36 L2227.06,238.00 L2230.40,235.71 L2233.74,233.50 L2237.07,231.36 L2240.41,229.28 L2243.75,227.27 L2247.09,225.32 L2250.43,223.43 L2253.76,221.60 L2257.10,219.83"/>
</g>
</g>
<g text-anchor="middle">
<text transform="translate(254.90,774.70) scale(1,1.025)">-300</text>
<text transform="translate(588.43,774.70) scale(1,1.025)">-200</text>
<text transform="translate(921.97,774.70) scale(1,1.025)">-100</text>
<text transform="translate(1255.50,774.70) scale(1,1.025)">0</text>
<text transform="translate(1589.03,774.70) scale(1,1.025)">100</text>
<text transform="translate(1922.57,774.70) scale(1,1.025)">200</text>
<text transform="translate(2256.10,774.70) scale(1,1.025)">300</text>
</g>
<g text-anchor="end">
<text transform="translate(238.50,79.20) scale(1,1.025)">10</text>
<text transform="translate(238.50,206.87) scale(1,1.025)">0</text>
<text transform="translate(238.50,334.54) scale(1,1.025)">-10</text>
<text transform="translate(238.50,462.21) scale(1,1.025)">-20</text>
<text transform="translate(238.50,589.88) scale(1,1.025)">-30</text>
<text transform="translate(238.50,717.55) scale(1,1.025)">-40</text>
</g>
<text text-anchor="middle" transform="translate(1255.80,855.70) scale(1,1.025)">Frequency (Hz)</text>
<text text-anchor="middle" transform="translate(120.40,372.00) rotate(-90) scale(1,1.025)">Magnitude(db)</text>
<g stroke="rgba(34,34,34,0.14)" stroke-width="8.60" fill="none">
<line x1="588.60" y1="971.50" x2="588.60" y2="1609.90"/>
<line x1="922.05" y1="971.50" x2="922.05" y2="1609.90"/>
<line x1="1256.45" y1="971.50" x2="1256.45" y2="1609.90"/>
<line x1="1589.60" y1="971.50" x2="1589.60" y2="1609.90"/>
<line x1="1923.10" y1="971.50" x2="1923.10" y2="1609.90"/>
<line x1="255.20" y1="1130.40" x2="2256.40" y2="1130.40"/>
<line x1="255.20" y1="1291.50" x2="2256.40" y2="1291.50"/>
<line x1="255.20" y1="1451.40" x2="2256.40" y2="1451.40"/>
</g>
<g stroke="#222222" stroke-width="8.48" fill="none">
<line x1="588.60" y1="971.50" x2="588.60" y2="996.70"/>
<line x1="588.60" y1="1609.90" x2="588.60" y2="1584.70"/>
<line x1="922.05" y1="971.50" x2="922.05" y2="996.70"/>
<line x1="922.05" y1="1609.90" x2="922.05" y2="1584.70"/>
<line x1="1256.45" y1="971.50" x2="1256.45" y2="996.70"/>
<line x1="1256.45" y1="1609.90" x2="1256.45" y2="1584.70"/>
<line x1="1589.60" y1="971.50" x2="1589.60" y2="996.70"/>
<line x1="1589.60" y1="1609.90" x2="1589.60" y2="1584.70"/>
<line x1="1923.10" y1="971.50" x2="1923.10" y2="996.70"/>
<line x1="1923.10" y1="1609.90" x2="1923.10" y2="1584.70"/>
<line x1="255.20" y1="1130.40" x2="279.00" y2="1130.40"/>
<line x1="2256.40" y1="1130.40" x2="2232.60" y2="1130.40"/>
<line x1="255.20" y1="1291.50" x2="279.00" y2="1291.50"/>
<line x1="2256.40" y1="1291.50" x2="2232.60" y2="1291.50"/>
<line x1="255.20" y1="1451.40" x2="279.00" y2="1451.40"/>
<line x1="2256.40" y1="1451.40" x2="2232.60" y2="1451.40"/>
</g>
<path fill="#222222" fill-rule="evenodd" d="M251.03,967.34 H2260.91 V1614.41 H251.03 Z M259.37,975.66 H2252.24 V1605.74 H259.37 Z"/>
<g fill="none" stroke-width="8.50">
<g stroke="#0072C6" stroke-linejoin="round">
<path d="M254.60,1434.10 L420.30,1576.60 L422.80,1004.10 L1087.10,1576.60 L1090.40,1003.90 L1754.60,1576.60 L1757.80,1003.80 L2257.10,1434.10"/>
</g>
<g stroke="#FA540D" stroke-linejoin="bevel" stroke-dasharray="30 28.93">
<path d="M254.60,1290.55 L588.60,1577.30 L591.50,1006.30 L1256.10,1577.30 L1259.00,1006.30 L1923.50,1577.30 L1926.20,1005.90 L2257.10,1290.55"/>
</g>
<g stroke="#FFB000" stroke-linejoin="bevel" stroke-dasharray="8.4 6.345">
<path d="M254.60,1147.00 L753.60,1576.60 L756.70,1004.60 L1421.50,1576.60 L1424.00,1005.20 L2089.10,1576.60 L2091.30,1004.60 L2257.10,1147.00"/>
</g>
</g>
<g text-anchor="middle">
<text transform="translate(254.90,1691.60) scale(1,1.025)">-300</text>
<text transform="translate(588.43,1691.60) scale(1,1.025)">-200</text>
<text transform="translate(921.97,1691.60) scale(1,1.025)">-100</text>
<text transform="translate(1255.50,1691.60) scale(1,1.025)">0</text>
<text transform="translate(1589.03,1691.60) scale(1,1.025)">100</text>
<text transform="translate(1922.57,1691.60) scale(1,1.025)">200</text>
<text transform="translate(2256.10,1691.60) scale(1,1.025)">300</text>
</g>
<g text-anchor="end">
<text transform="translate(238.50,997.10) scale(1,1.025)">100</text>
<text transform="translate(238.50,1156.62) scale(1,1.025)">50</text>
<text transform="translate(238.50,1316.15) scale(1,1.025)">0</text>
<text transform="translate(238.50,1475.67) scale(1,1.025)">-50</text>
<text transform="translate(238.50,1635.20) scale(1,1.025)">-100</text>
</g>
<text text-anchor="middle" transform="translate(1255.80,1774.25) scale(1,1.025)">Frequency (Hz)</text>
<text text-anchor="middle" transform="translate(83.70,1290.70) rotate(-90) scale(1,1.025)">Phase (deg)</text>
</svg></body></html>
